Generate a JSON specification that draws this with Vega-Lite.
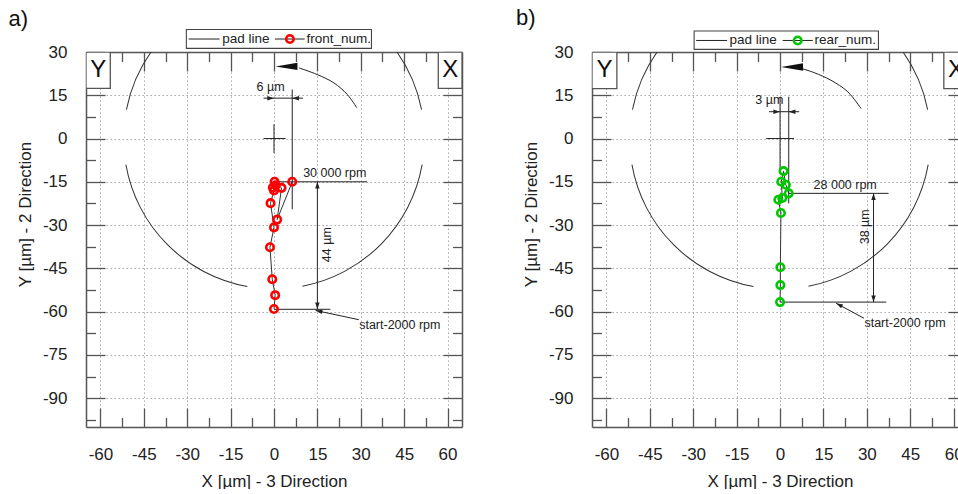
{
  "$schema": "https://vega.github.io/schema/vega-lite/v6.json",
  "padding": {"left": 8, "top": 7, "right": 0, "bottom": 0},
  "background": "white",
  "spacing": 52,
  "config": {
    "view": {"stroke": null},
    "font": "Liberation Sans",
    "axis": {"domainColor": "#555", "domainWidth": 1.5, "tickColor": "#555", "tickWidth": 1.3, "labelFont": "Liberation Sans", "labelFontSize": 17, "labelColor": "#222", "labelFlush": false, "labelOverlap": false, "titleFont": "Liberation Sans", "titleFontSize": 17, "titleFontWeight": "normal", "titleColor": "#222", "gridColor": "#9a9a9a", "gridDash": [1.3, 2.7], "gridWidth": 1}
  },
  "hconcat": [
    {
      "width": 376,
      "height": 375,
      "resolve": {"axis": {"x": "independent", "y": "independent"}},
      "layer": [
        {
          "data": {"values": [{"a0": 281.1, "a1": 330}, {"a0": 190.2, "a1": 260}, {"a0": 100, "a1": 169.1}, {"a0": 30, "a1": 78.9}]},
          "mark": {"type": "arc", "radius": 150.9, "radius2": 149.9, "fill": "#333", "clip": true},
          "encoding": {
            "x": {"datum": 0, "type": "quantitative", "scale": {"domain": [-65, 65], "nice": false, "zero": false}, "axis": null},
            "y": {"datum": 0, "type": "quantitative", "scale": {"domain": [-100, 30], "nice": false, "zero": false}, "axis": null},
            "theta": {"field": "a0", "type": "quantitative", "scale": {"domain": [0, 360], "range": [0, 6.283185]}},
            "theta2": {"field": "a1"}
          }
        },
        {
          "data": {"values": [
            {"x": -3.6, "y": 0, "x2": 4, "y2": 0},
            {"x": 0, "y": 5, "x2": 0, "y2": -5},
            {"x": 6.3, "y": 17, "x2": 6.3, "y2": -24.5},
            {"x": -3.6, "y": 14, "x2": 10, "y2": 14},
            {"x": 0, "y": -15, "x2": 32.2, "y2": -15},
            {"x": 15, "y": -15, "x2": 15, "y2": -59.2},
            {"x": 0, "y": -59.2, "x2": 19.5, "y2": -59.2},
            {"x": 29.3, "y": -62.8, "x2": 14.4, "y2": -59.6}
          ]},
          "mark": {"type": "rule", "color": "#222", "strokeWidth": 1},
          "encoding": {
            "x": {"field": "x", "type": "quantitative", "scale": {"domain": [-65, 65], "nice": false, "zero": false}, "axis": {"orient": "bottom", "values": [-60, -45, -30, -15, 0, 15, 30, 45, 60], "tickSize": -19, "labelPadding": 38, "grid": true, "domain": true, "labelExpr": "'' + datum.value", "title": "X [µm] - 3 Direction", "titlePadding": 11}},
            "x2": {"field": "x2"},
            "y": {"field": "y", "type": "quantitative", "scale": {"domain": [-100, 30], "nice": false, "zero": false}, "axis": {"orient": "left", "values": [30, 15, 0, -15, -30, -45, -60, -75, -90], "tickSize": -19, "labelPadding": 38, "grid": true, "domain": true, "labelExpr": "'' + datum.value", "title": "Y [µm] - 2 Direction", "titlePadding": 8, "titleY": 162}},
            "y2": {"field": "y2"}
          }
        },
        {
          "data": {"values": [{"x": 28.6, "y": 10.7, "o": 1}, {"x": 25.3, "y": 15.3, "o": 2}, {"x": 20.7, "y": 19.3, "o": 3}, {"x": 14.9, "y": 22.2, "o": 4}, {"x": 8.6, "y": 24.5, "o": 5}]},
          "mark": {"type": "line", "color": "#222", "strokeWidth": 1, "interpolate": "cardinal"},
          "encoding": {
            "x": {"field": "x", "type": "quantitative", "scale": {"domain": [-65, 65], "nice": false, "zero": false}, "axis": null},
            "y": {"field": "y", "type": "quantitative", "scale": {"domain": [-100, 30], "nice": false, "zero": false}, "axis": null},
            "order": {"field": "o", "type": "quantitative"}
          }
        },
        {
          "data": {"values": [
            {"x": 0, "y": -59.1, "o": 1}, {"x": 0.4, "y": -54.3, "o": 2}, {"x": -0.6, "y": -48.8, "o": 3}, {"x": -1.4, "y": -37.7, "o": 4},
            {"x": 0, "y": -30.8, "o": 5}, {"x": -1.2, "y": -22.4, "o": 6}, {"x": 0, "y": -18, "o": 7}, {"x": -0.4, "y": -17, "o": 8},
            {"x": 0.6, "y": -16.2, "o": 9}, {"x": 0.2, "y": -15, "o": 10}, {"x": 2.6, "y": -17.1, "o": 11}, {"x": 1.1, "y": -28.1, "o": 12}, {"x": 6.3, "y": -15, "o": 13}
          ]},
          "mark": {"type": "line", "color": "#333", "strokeWidth": 1},
          "encoding": {
            "x": {"field": "x", "type": "quantitative", "scale": {"domain": [-65, 65], "nice": false, "zero": false}, "axis": {"orient": "top", "values": [-60, -45, -30, -15, 0, 15, 30, 45, 60], "tickSize": -19, "labels": false, "grid": false, "domain": true, "title": null}},
            "y": {"field": "y", "type": "quantitative", "scale": {"domain": [-100, 30], "nice": false, "zero": false}, "axis": {"orient": "right", "values": [30, 15, 0, -15, -30, -45, -60, -75, -90], "tickSize": -19, "labels": false, "grid": false, "domain": true, "title": null}},
            "order": {"field": "o", "type": "quantitative"}
          }
        },
        {
          "data": {"values": [{"x": -65, "x2": -56.6, "y": 30, "y2": 17.4}, {"x": 56.8, "x2": 65, "y": 30, "y2": 17.4}]},
          "mark": {"type": "rect", "fill": "white", "stroke": "#555", "strokeWidth": 1.3, "clip": true},
          "encoding": {
            "x": {"field": "x", "type": "quantitative", "scale": {"domain": [-65, 65], "nice": false, "zero": false}, "axis": null},
            "x2": {"field": "x2"},
            "y": {"field": "y", "type": "quantitative", "scale": {"domain": [-100, 30], "nice": false, "zero": false}, "axis": null},
            "y2": {"field": "y2"}
          }
        },
        {
          "data": {"values": [{"x": -1.2, "y": 17.7, "t": "6 µm"}, {"x": 21.0, "y": -11.9, "t": "30 000 rpm"}, {"x": 43.5, "y": -64.5, "t": "start-2000 rpm"}]},
          "mark": {"type": "text", "fontSize": 12.5, "font": "Liberation Sans", "color": "#222", "align": "center", "baseline": "middle"},
          "encoding": {
            "x": {"field": "x", "type": "quantitative", "scale": {"domain": [-65, 65], "nice": false, "zero": false}, "axis": {"orient": "bottom", "values": [-52.5, -37.5, -22.5, -7.5, 7.5, 22.5, 37.5, 52.5], "tickSize": -9.5, "labels": false, "grid": false, "domain": false, "title": null}},
            "y": {"field": "y", "type": "quantitative", "scale": {"domain": [-100, 30], "nice": false, "zero": false}, "axis": {"orient": "left", "values": [22.5, 7.5, -7.5, -22.5, -37.5, -52.5, -67.5, -82.5, -97.5], "tickSize": -9.5, "labels": false, "grid": false, "domain": false, "title": null}},
            "text": {"field": "t"}
          }
        },
        {
          "data": {"values": [{"x": 18.4, "y": -36.8, "t": "44 µm"}]},
          "mark": {"type": "text", "fontSize": 12.5, "font": "Liberation Sans", "color": "#222", "align": "center", "baseline": "middle", "angle": 270},
          "encoding": {
            "x": {"field": "x", "type": "quantitative", "scale": {"domain": [-65, 65], "nice": false, "zero": false}, "axis": null},
            "y": {"field": "y", "type": "quantitative", "scale": {"domain": [-100, 30], "nice": false, "zero": false}, "axis": null},
            "text": {"field": "t"}
          }
        },
        {
          "data": {"values": [{"x": 0, "y": 14, "dir": 90}, {"x": 6.3, "y": 14, "dir": 270}, {"x": 15, "y": -15, "dir": 0}, {"x": 15, "y": -59.2, "dir": 180}, {"x": 14.4, "y": -59.6, "dir": 282}]},
          "mark": {"type": "point", "shape": "M0,0L-1,3L1,3Z", "filled": true, "color": "#222", "size": 20, "opacity": 1},
          "encoding": {
            "x": {"field": "x", "type": "quantitative", "scale": {"domain": [-65, 65], "nice": false, "zero": false}, "axis": null},
            "y": {"field": "y", "type": "quantitative", "scale": {"domain": [-100, 30], "nice": false, "zero": false}, "axis": null},
            "angle": {"field": "dir", "type": "quantitative", "scale": null}
          }
        },
        {
          "data": {"values": [{"x": 0.5, "y": 25}]},
          "mark": {"type": "point", "shape": "M0,0L3,-0.5L3,0.5Z", "filled": true, "color": "#111", "size": 215, "opacity": 1},
          "encoding": {
            "x": {"field": "x", "type": "quantitative", "scale": {"domain": [-65, 65], "nice": false, "zero": false}, "axis": null},
            "y": {"field": "y", "type": "quantitative", "scale": {"domain": [-100, 30], "nice": false, "zero": false}, "axis": null}
          }
        },
        {
          "data": {"values": [
            {"x": 0, "y": -59.1}, {"x": 0.4, "y": -54.3}, {"x": -0.6, "y": -48.8}, {"x": -1.4, "y": -37.7},
            {"x": 0, "y": -30.8}, {"x": -1.2, "y": -22.4}, {"x": 0, "y": -18}, {"x": -0.4, "y": -17},
            {"x": 0.6, "y": -16.2}, {"x": 0.2, "y": -15}, {"x": 2.6, "y": -17.1}, {"x": 1.1, "y": -28.1}, {"x": 6.3, "y": -15}
          ]},
          "mark": {"type": "point", "shape": "circle", "filled": false, "color": "#ff0000", "strokeWidth": 2.6, "size": 56, "opacity": 1},
          "encoding": {
            "x": {"field": "x", "type": "quantitative", "scale": {"domain": [-65, 65], "nice": false, "zero": false}, "axis": {"orient": "top", "values": [-52.5, -37.5, -22.5, -7.5, 7.5, 22.5, 37.5, 52.5], "tickSize": -9.5, "labels": false, "grid": false, "domain": false, "title": null}},
            "y": {"field": "y", "type": "quantitative", "scale": {"domain": [-100, 30], "nice": false, "zero": false}, "axis": {"orient": "right", "values": [22.5, 7.5, -7.5, -22.5, -37.5, -52.5, -67.5, -82.5, -97.5], "tickSize": -9.5, "labels": false, "grid": false, "domain": false, "title": null}}
          }
        },
        {
          "data": {"values": [{"x": -30.3, "x2": 33.7, "y": 37.8, "y2": 31.25}]},
          "mark": {"type": "rect", "fill": "white", "stroke": "#444", "strokeWidth": 1.1},
          "encoding": {
            "x": {"field": "x", "type": "quantitative", "scale": {"domain": [-65, 65], "nice": false, "zero": false}, "axis": null},
            "x2": {"field": "x2"},
            "y": {"field": "y", "type": "quantitative", "scale": {"domain": [-100, 30], "nice": false, "zero": false}, "axis": null},
            "y2": {"field": "y2"}
          }
        },
        {
          "data": {"values": [{"x": -29.5, "x2": -18.8, "y": 34.5, "y2": 34.5}, {"x": 0.3, "x2": 10.6, "y": 34.5, "y2": 34.5}]},
          "mark": {"type": "rule", "color": "#222", "strokeWidth": 1},
          "encoding": {
            "x": {"field": "x", "type": "quantitative", "scale": {"domain": [-65, 65], "nice": false, "zero": false}, "axis": null},
            "x2": {"field": "x2"},
            "y": {"field": "y", "type": "quantitative", "scale": {"domain": [-100, 30], "nice": false, "zero": false}, "axis": null},
            "y2": {"field": "y2"}
          }
        },
        {
          "data": {"values": [{"x": -17.9, "y": 34.5, "t": "pad line"}, {"x": 11.2, "y": 34.5, "t": "front_num."}]},
          "mark": {"type": "text", "fontSize": 13.5, "font": "Liberation Sans", "color": "#222", "align": "left", "baseline": "middle"},
          "encoding": {
            "x": {"field": "x", "type": "quantitative", "scale": {"domain": [-65, 65], "nice": false, "zero": false}, "axis": null},
            "y": {"field": "y", "type": "quantitative", "scale": {"domain": [-100, 30], "nice": false, "zero": false}, "axis": null},
            "text": {"field": "t"}
          }
        },
        {
          "data": {"values": [{"x": 5.5, "y": 34.5}]},
          "mark": {"type": "point", "shape": "circle", "filled": false, "color": "#ff0000", "strokeWidth": 2.6, "size": 56, "opacity": 1},
          "encoding": {
            "x": {"field": "x", "type": "quantitative", "scale": {"domain": [-65, 65], "nice": false, "zero": false}, "axis": null},
            "y": {"field": "y", "type": "quantitative", "scale": {"domain": [-100, 30], "nice": false, "zero": false}, "axis": null}
          }
        },
        {
          "data": {"values": [{"x": -60.8, "y": 23.7, "t": "Y"}, {"x": 60.9, "y": 23.7, "t": "X"}]},
          "mark": {"type": "text", "fontSize": 24, "font": "Liberation Sans", "color": "#111", "align": "center", "baseline": "middle", "clip": true},
          "encoding": {
            "x": {"field": "x", "type": "quantitative", "scale": {"domain": [-65, 65], "nice": false, "zero": false}, "axis": null},
            "y": {"field": "y", "type": "quantitative", "scale": {"domain": [-100, 30], "nice": false, "zero": false}, "axis": null},
            "text": {"field": "t"}
          }
        },
        {
          "data": {"values": [{"x": -91.8, "y": 39.1, "t": "a)"}]},
          "mark": {"type": "text", "fontSize": 22, "font": "Liberation Sans", "color": "#111", "align": "left", "baseline": "alphabetic"},
          "encoding": {
            "x": {"field": "x", "type": "quantitative", "scale": {"domain": [-65, 65], "nice": false, "zero": false}, "axis": null},
            "y": {"field": "y", "type": "quantitative", "scale": {"domain": [-100, 30], "nice": false, "zero": false}, "axis": null},
            "text": {"field": "t"}
          }
        }
      ]
    },
    {
      "width": 366,
      "height": 375,
      "resolve": {"axis": {"x": "independent", "y": "independent"}},
      "layer": [
        {
          "data": {"values": [{"a0": 281.1, "a1": 330}, {"a0": 190.2, "a1": 260}, {"a0": 100, "a1": 169.1}, {"a0": 30, "a1": 78.9}]},
          "mark": {"type": "arc", "radius": 150.9, "radius2": 149.9, "fill": "#333", "clip": true},
          "encoding": {
            "x": {"datum": 0, "type": "quantitative", "scale": {"domain": [-65, 61.5], "nice": false, "zero": false}, "axis": null},
            "y": {"datum": 0, "type": "quantitative", "scale": {"domain": [-100, 30], "nice": false, "zero": false}, "axis": null},
            "theta": {"field": "a0", "type": "quantitative", "scale": {"domain": [0, 360], "range": [0, 6.283185]}},
            "theta2": {"field": "a1"}
          }
        },
        {
          "data": {"values": [
            {"x": -4.8, "y": 0, "x2": 4.8, "y2": 0},
            {"x": 0, "y": 14.5, "x2": 0, "y2": -11},
            {"x": 3, "y": 14.5, "x2": 3, "y2": -22.5},
            {"x": -3.8, "y": 9.3, "x2": 6.6, "y2": 9.3},
            {"x": 3, "y": -19, "x2": 37.5, "y2": -19},
            {"x": 32.3, "y": -19, "x2": 32.3, "y2": -56.7},
            {"x": 0, "y": -56.7, "x2": 36.7, "y2": -56.7},
            {"x": 29, "y": -62.3, "x2": 19.4, "y2": -57.1}
          ]},
          "mark": {"type": "rule", "color": "#222", "strokeWidth": 1},
          "encoding": {
            "x": {"field": "x", "type": "quantitative", "scale": {"domain": [-65, 61.5], "nice": false, "zero": false}, "axis": {"orient": "bottom", "values": [-60, -45, -30, -15, 0, 15, 30, 45, 60], "tickSize": -19, "labelPadding": 38, "grid": true, "domain": true, "labelExpr": "'' + datum.value", "title": "X [µm] - 3 Direction", "titlePadding": 11, "titleX": 188}},
            "x2": {"field": "x2"},
            "y": {"field": "y", "type": "quantitative", "scale": {"domain": [-100, 30], "nice": false, "zero": false}, "axis": {"orient": "left", "values": [30, 15, 0, -15, -30, -45, -60, -75, -90], "tickSize": -19, "labelPadding": 38, "grid": true, "domain": true, "labelExpr": "'' + datum.value", "title": "Y [µm] - 2 Direction", "titlePadding": 8, "titleY": 162}},
            "y2": {"field": "y2"}
          }
        },
        {
          "data": {"values": [{"x": 28, "y": 10.4, "o": 1}, {"x": 23.4, "y": 16.2, "o": 2}, {"x": 17.6, "y": 20.2, "o": 3}, {"x": 11.9, "y": 22.8, "o": 4}, {"x": 7.3, "y": 24.3, "o": 5}]},
          "mark": {"type": "line", "color": "#222", "strokeWidth": 1, "interpolate": "cardinal"},
          "encoding": {
            "x": {"field": "x", "type": "quantitative", "scale": {"domain": [-65, 61.5], "nice": false, "zero": false}, "axis": null},
            "y": {"field": "y", "type": "quantitative", "scale": {"domain": [-100, 30], "nice": false, "zero": false}, "axis": null},
            "order": {"field": "o", "type": "quantitative"}
          }
        },
        {
          "data": {"values": [
            {"x": 0, "y": -56.7, "o": 1}, {"x": 0.1, "y": -50.8, "o": 2}, {"x": 0.1, "y": -44.6, "o": 3}, {"x": 0.3, "y": -25.8, "o": 4},
            {"x": -0.6, "y": -21.2, "o": 5}, {"x": 0.8, "y": -20.6, "o": 6}, {"x": 0.4, "y": -15, "o": 7}, {"x": 1.2, "y": -11.3, "o": 8},
            {"x": 2, "y": -16, "o": 9}, {"x": 3, "y": -19, "o": 10}
          ]},
          "mark": {"type": "line", "color": "#333", "strokeWidth": 1},
          "encoding": {
            "x": {"field": "x", "type": "quantitative", "scale": {"domain": [-65, 61.5], "nice": false, "zero": false}, "axis": {"orient": "top", "values": [-60, -45, -30, -15, 0, 15, 30, 45, 60], "tickSize": -19, "labels": false, "grid": false, "domain": true, "title": null}},
            "y": {"field": "y", "type": "quantitative", "scale": {"domain": [-100, 30], "nice": false, "zero": false}, "axis": {"orient": "right", "values": [30, 15, 0, -15, -30, -45, -60, -75, -90], "tickSize": -10, "labels": false, "grid": false, "domain": false, "title": null}},
            "order": {"field": "o", "type": "quantitative"}
          }
        },
        {
          "data": {"values": [{"x": -65, "x2": -56.4, "y": 30, "y2": 17.3}, {"x": 56.6, "x2": 65, "y": 30, "y2": 17.3}]},
          "mark": {"type": "rect", "fill": "white", "stroke": "#555", "strokeWidth": 1.3, "clip": true},
          "encoding": {
            "x": {"field": "x", "type": "quantitative", "scale": {"domain": [-65, 61.5], "nice": false, "zero": false}, "axis": null},
            "x2": {"field": "x2"},
            "y": {"field": "y", "type": "quantitative", "scale": {"domain": [-100, 30], "nice": false, "zero": false}, "axis": null},
            "y2": {"field": "y2"}
          }
        },
        {
          "data": {"values": [{"x": -3.7, "y": 13.5, "t": "3 µm"}, {"x": 22.5, "y": -16.2, "t": "28 000 rpm"}, {"x": 43.2, "y": -64, "t": "start-2000 rpm"}]},
          "mark": {"type": "text", "fontSize": 12.5, "font": "Liberation Sans", "color": "#222", "align": "center", "baseline": "middle"},
          "encoding": {
            "x": {"field": "x", "type": "quantitative", "scale": {"domain": [-65, 61.5], "nice": false, "zero": false}, "axis": {"orient": "bottom", "values": [-52.5, -37.5, -22.5, -7.5, 7.5, 22.5, 37.5, 52.5], "tickSize": -9.5, "labels": false, "grid": false, "domain": false, "title": null}},
            "y": {"field": "y", "type": "quantitative", "scale": {"domain": [-100, 30], "nice": false, "zero": false}, "axis": {"orient": "left", "values": [22.5, 7.5, -7.5, -22.5, -37.5, -52.5, -67.5, -82.5, -97.5], "tickSize": -9.5, "labels": false, "grid": false, "domain": false, "title": null}},
            "text": {"field": "t"}
          }
        },
        {
          "data": {"values": [{"x": 29.2, "y": -30.6, "t": "38 µm"}]},
          "mark": {"type": "text", "fontSize": 12.5, "font": "Liberation Sans", "color": "#222", "align": "center", "baseline": "middle", "angle": 270},
          "encoding": {
            "x": {"field": "x", "type": "quantitative", "scale": {"domain": [-65, 61.5], "nice": false, "zero": false}, "axis": null},
            "y": {"field": "y", "type": "quantitative", "scale": {"domain": [-100, 30], "nice": false, "zero": false}, "axis": null},
            "text": {"field": "t"}
          }
        },
        {
          "data": {"values": [{"x": 0, "y": 9.3, "dir": 90}, {"x": 3, "y": 9.3, "dir": 270}, {"x": 32.3, "y": -19, "dir": 0}, {"x": 32.3, "y": -56.7, "dir": 180}, {"x": 19.4, "y": -57.1, "dir": 298}]},
          "mark": {"type": "point", "shape": "M0,0L-1,3L1,3Z", "filled": true, "color": "#222", "size": 20, "opacity": 1},
          "encoding": {
            "x": {"field": "x", "type": "quantitative", "scale": {"domain": [-65, 61.5], "nice": false, "zero": false}, "axis": null},
            "y": {"field": "y", "type": "quantitative", "scale": {"domain": [-100, 30], "nice": false, "zero": false}, "axis": null},
            "angle": {"field": "dir", "type": "quantitative", "scale": null}
          }
        },
        {
          "data": {"values": [{"x": 0.35, "y": 24.8}]},
          "mark": {"type": "point", "shape": "M0,0L3,-0.5L3,0.5Z", "filled": true, "color": "#111", "size": 215, "opacity": 1},
          "encoding": {
            "x": {"field": "x", "type": "quantitative", "scale": {"domain": [-65, 61.5], "nice": false, "zero": false}, "axis": null},
            "y": {"field": "y", "type": "quantitative", "scale": {"domain": [-100, 30], "nice": false, "zero": false}, "axis": null}
          }
        },
        {
          "data": {"values": [
            {"x": 0, "y": -56.7}, {"x": 0.1, "y": -50.8}, {"x": 0.1, "y": -44.6}, {"x": 0.3, "y": -25.8},
            {"x": -0.6, "y": -21.2}, {"x": 0.8, "y": -20.6}, {"x": 0.4, "y": -15}, {"x": 1.2, "y": -11.3},
            {"x": 2, "y": -16}, {"x": 3, "y": -19}
          ]},
          "mark": {"type": "point", "shape": "circle", "filled": false, "color": "#00c800", "strokeWidth": 2.6, "size": 56, "opacity": 1},
          "encoding": {
            "x": {"field": "x", "type": "quantitative", "scale": {"domain": [-65, 61.5], "nice": false, "zero": false}, "axis": {"orient": "top", "values": [-52.5, -37.5, -22.5, -7.5, 7.5, 22.5, 37.5, 52.5], "tickSize": -9.5, "labels": false, "grid": false, "domain": false, "title": null}},
            "y": {"field": "y", "type": "quantitative", "scale": {"domain": [-100, 30], "nice": false, "zero": false}, "axis": null}
          }
        },
        {
          "data": {"values": [{"x": -29.7, "x2": 34, "y": 37.3, "y2": 30.9}]},
          "mark": {"type": "rect", "fill": "white", "stroke": "#444", "strokeWidth": 1.1},
          "encoding": {
            "x": {"field": "x", "type": "quantitative", "scale": {"domain": [-65, 61.5], "nice": false, "zero": false}, "axis": null},
            "x2": {"field": "x2"},
            "y": {"field": "y", "type": "quantitative", "scale": {"domain": [-100, 30], "nice": false, "zero": false}, "axis": null},
            "y2": {"field": "y2"}
          }
        },
        {
          "data": {"values": [{"x": -29, "x2": -18.3, "y": 34, "y2": 34}, {"x": 0.9, "x2": 11.3, "y": 34, "y2": 34}]},
          "mark": {"type": "rule", "color": "#222", "strokeWidth": 1},
          "encoding": {
            "x": {"field": "x", "type": "quantitative", "scale": {"domain": [-65, 61.5], "nice": false, "zero": false}, "axis": null},
            "x2": {"field": "x2"},
            "y": {"field": "y", "type": "quantitative", "scale": {"domain": [-100, 30], "nice": false, "zero": false}, "axis": null},
            "y2": {"field": "y2"}
          }
        },
        {
          "data": {"values": [{"x": -17.5, "y": 34, "t": "pad line"}, {"x": 11.9, "y": 34, "t": "rear_num."}]},
          "mark": {"type": "text", "fontSize": 13.5, "font": "Liberation Sans", "color": "#222", "align": "left", "baseline": "middle"},
          "encoding": {
            "x": {"field": "x", "type": "quantitative", "scale": {"domain": [-65, 61.5], "nice": false, "zero": false}, "axis": null},
            "y": {"field": "y", "type": "quantitative", "scale": {"domain": [-100, 30], "nice": false, "zero": false}, "axis": null},
            "text": {"field": "t"}
          }
        },
        {
          "data": {"values": [{"x": 6.1, "y": 34}]},
          "mark": {"type": "point", "shape": "circle", "filled": false, "color": "#00c800", "strokeWidth": 2.6, "size": 56, "opacity": 1},
          "encoding": {
            "x": {"field": "x", "type": "quantitative", "scale": {"domain": [-65, 61.5], "nice": false, "zero": false}, "axis": null},
            "y": {"field": "y", "type": "quantitative", "scale": {"domain": [-100, 30], "nice": false, "zero": false}, "axis": null}
          }
        },
        {
          "data": {"values": [{"x": -60.7, "y": 23.7, "t": "Y"}, {"x": 60.8, "y": 23.7, "t": "X"}]},
          "mark": {"type": "text", "fontSize": 24, "font": "Liberation Sans", "color": "#111", "align": "center", "baseline": "middle", "clip": true},
          "encoding": {
            "x": {"field": "x", "type": "quantitative", "scale": {"domain": [-65, 61.5], "nice": false, "zero": false}, "axis": null},
            "y": {"field": "y", "type": "quantitative", "scale": {"domain": [-100, 30], "nice": false, "zero": false}, "axis": null},
            "text": {"field": "t"}
          }
        },
        {
          "data": {"values": [{"x": -91.3, "y": 39.2, "t": "b)"}]},
          "mark": {"type": "text", "fontSize": 22, "font": "Liberation Sans", "color": "#111", "align": "left", "baseline": "alphabetic"},
          "encoding": {
            "x": {"field": "x", "type": "quantitative", "scale": {"domain": [-65, 61.5], "nice": false, "zero": false}, "axis": null},
            "y": {"field": "y", "type": "quantitative", "scale": {"domain": [-100, 30], "nice": false, "zero": false}, "axis": null},
            "text": {"field": "t"}
          }
        }
      ]
    }
  ]
}
